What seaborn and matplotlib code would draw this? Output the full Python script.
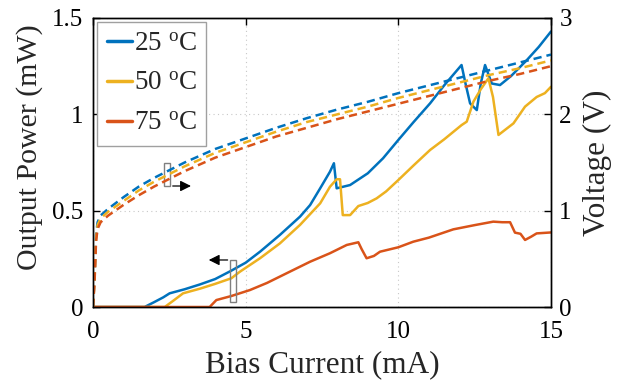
import numpy as np
import pandas as pd
import matplotlib
matplotlib.use("Agg")
import matplotlib.pyplot as plt
from matplotlib.patches import Rectangle
import seaborn as sns

# ---------------- data ----------------
temps = ["25 $^{\\mathrm{o}}$C", "50 $^{\\mathrm{o}}$C", "75 $^{\\mathrm{o}}$C"]
colors = ["#0072BD", "#EDB120", "#D95319"]

i_25 = [0, 1.69, 2.0, 2.3, 2.51, 3.0, 3.5, 4.0, 4.5, 5.0, 5.47, 6.12, 6.78, 7.11, 7.44, 7.76, 7.89, 7.98,
        8.42, 9.0, 9.5, 10.0, 10.5, 11.04, 11.5, 12.07, 12.2, 12.35, 12.57, 12.7, 12.84, 13.06, 13.33,
        13.7, 14.2, 14.6, 15.0]
p_25 = [0, 0, 0.025, 0.05, 0.071, 0.092, 0.117, 0.145, 0.186, 0.23, 0.287, 0.374, 0.469, 0.529, 0.616,
        0.702, 0.746, 0.616, 0.633, 0.694, 0.772, 0.867, 0.96, 1.057, 1.15, 1.256, 1.16, 1.057, 1.022, 1.16,
        1.256, 1.16, 1.152, 1.2, 1.28, 1.35, 1.43]

i_50 = [0, 2.35, 2.65, 2.95, 3.5, 4.0, 4.53, 4.81, 5.47, 6.12, 6.78, 7.44, 7.76, 7.98, 8.09, 8.18, 8.42,
        8.69, 9.0, 9.29, 9.6, 10.0, 10.5, 11.04, 11.5, 12.07, 12.24, 12.46, 12.7, 12.95, 13.1, 13.28,
        13.5, 13.77, 14.15, 14.53, 14.8, 15.0]
p_50 = [0, 0, 0.035, 0.071, 0.095, 0.12, 0.149, 0.183, 0.253, 0.33, 0.426, 0.538, 0.624, 0.663, 0.663,
        0.477, 0.477, 0.524, 0.54, 0.564, 0.6, 0.659, 0.735, 0.815, 0.87, 0.944, 0.962, 1.066, 1.13, 1.187,
        1.09, 0.893, 0.92, 0.953, 1.04, 1.09, 1.11, 1.143]

i_75 = [0, 3.82, 4.04, 4.53, 5.14, 5.7, 6.34, 7.11, 7.76, 8.31, 8.69, 8.8, 8.96, 9.2, 9.4, 10.0, 10.49,
        11.0, 11.8, 12.5, 13.11, 13.4, 13.66, 13.82, 14.0, 14.15, 14.35, 14.53, 15.0]
p_75 = [0, 0, 0.036, 0.057, 0.088, 0.125, 0.175, 0.235, 0.279, 0.322, 0.336, 0.3, 0.253, 0.265, 0.287,
        0.31, 0.339, 0.36, 0.403, 0.425, 0.443, 0.44, 0.44, 0.386, 0.38, 0.348, 0.365, 0.382, 0.387]

i_v = [0, 0.05, 0.1, 0.15, 0.25, 0.5, 1.0, 1.5, 2.0, 3.0, 4.0, 5.0, 6.0, 7.0, 8.0, 9.0, 10.0, 11.0,
       12.0, 13.0, 14.0, 15.0]
v_25 = [0, 0.3, 0.75, 0.88, 0.95, 1.02, 1.14, 1.25, 1.34, 1.5, 1.64, 1.75, 1.86, 1.96, 2.05, 2.13, 2.22,
        2.3, 2.38, 2.46, 2.54, 2.62]
v_50 = [0, 0.28, 0.72, 0.85, 0.92, 0.99, 1.1, 1.21, 1.3, 1.46, 1.6, 1.71, 1.82, 1.92, 2.0, 2.08, 2.17,
        2.25, 2.33, 2.41, 2.48, 2.56]
v_75 = [0, 0.25, 0.68, 0.81, 0.88, 0.95, 1.06, 1.16, 1.25, 1.41, 1.55, 1.66, 1.77, 1.86, 1.95, 2.03,
        2.11, 2.19, 2.27, 2.35, 2.42, 2.5]

x_ticks = [0, 5, 10, 15]
yl_ticks = [0, 0.5, 1, 1.5]
yl_labels = ["0", "0.5", "1", "1.5"]
yr_ticks = [0, 1, 2, 3]

# ---------------- style ----------------
sns.set_style("white")
plt.rcParams["font.family"] = ["Liberation Serif", "DejaVu Serif"]
plt.rcParams["mathtext.fontset"] = "custom"
plt.rcParams["mathtext.rm"] = "Liberation Serif"
plt.rcParams["mathtext.it"] = "Liberation Serif:italic"

fig = plt.figure(figsize=(6.21, 3.84), dpi=100)
ax = fig.add_axes([93 / 621, 1 - 307 / 384, 458 / 621, 289 / 384])
ax2 = ax.twinx()

power = [(i_25, p_25), (i_50, p_50), (i_75, p_75)]
volt = [v_25, v_50, v_75]

for (ii, pp), c, lab in zip(power, colors, temps):
    sns.lineplot(x=ii, y=pp, ax=ax, color=c, lw=1.8, label=lab, sort=False)

for vv, c in zip(volt, colors):
    sns.lineplot(x=i_v, y=vv, ax=ax2, color=c, lw=1.8, sort=False)
for line in ax2.get_lines():
    line.set_linestyle((0, (3.3, 2.0)))

ax.set_xlim(0, 15)
ax.set_ylim(0, 1.5)
ax2.set_ylim(0, 3)
ax.set_xticks(x_ticks)
ax.set_xticklabels([str(t) for t in x_ticks])
ax.set_yticks(yl_ticks)
ax.set_yticklabels(yl_labels)
ax2.set_yticks(yr_ticks)
ax2.set_yticklabels([str(t) for t in yr_ticks])

ax.grid(True, linestyle=(0, (1, 3)), color="#c8c8c8", lw=0.8)
ax.tick_params(axis="y", direction="in", length=5, width=1, right=False, labelsize=18, colors="black", pad=7)
ax.tick_params(axis="x", direction="in", length=5, width=1, top=True, labelsize=18, colors="black", pad=10)
ax2.tick_params(direction="in", length=5, width=1, labelsize=18, colors="black", pad=6)
for a in (ax, ax2):
    for s in a.spines.values():
        s.set_color("black")
        s.set_linewidth(1.0)

ax.set_xlabel("Bias Current (mA)", fontsize=22.5, labelpad=5)
ax.set_ylabel("Output Power (mW)", fontsize=21.5)
ax.yaxis.set_label_coords(-0.109, 0.553)
ax2.set_ylabel("Voltage (V)", fontsize=22.5, labelpad=8)

# annotation boxes and arrows
ax.add_patch(Rectangle((2.33, 0.628), 0.19, 0.118, fill=False, edgecolor="#7f7f7f", lw=1.0, zorder=5))
ax.annotate("", xy=(3.3, 0.628), xytext=(2.52, 0.628),
            arrowprops=dict(arrowstyle="-|>", color="black", lw=0.9, mutation_scale=16), zorder=5)
ax.add_patch(Rectangle((4.5, 0.024), 0.18, 0.22, fill=False, edgecolor="#7f7f7f", lw=1.0, zorder=5))
ax.annotate("", xy=(3.7, 0.244), xytext=(4.5, 0.244),
            arrowprops=dict(arrowstyle="-|>", color="black", lw=0.9, mutation_scale=16), zorder=5)

leg = ax.legend(loc="upper left", fontsize=19.5, frameon=True, fancybox=False, edgecolor="#a0a0a0",
                handlelength=0.95, handletextpad=0.05, borderpad=0.35, labelspacing=0.55,
                borderaxespad=0.15)
leg.get_frame().set_linewidth(1.0)
leg.get_frame().set_alpha(1)
for h in leg.get_lines():
    h.set_linewidth(2.5)

fig.savefig("out.png", dpi=100)
